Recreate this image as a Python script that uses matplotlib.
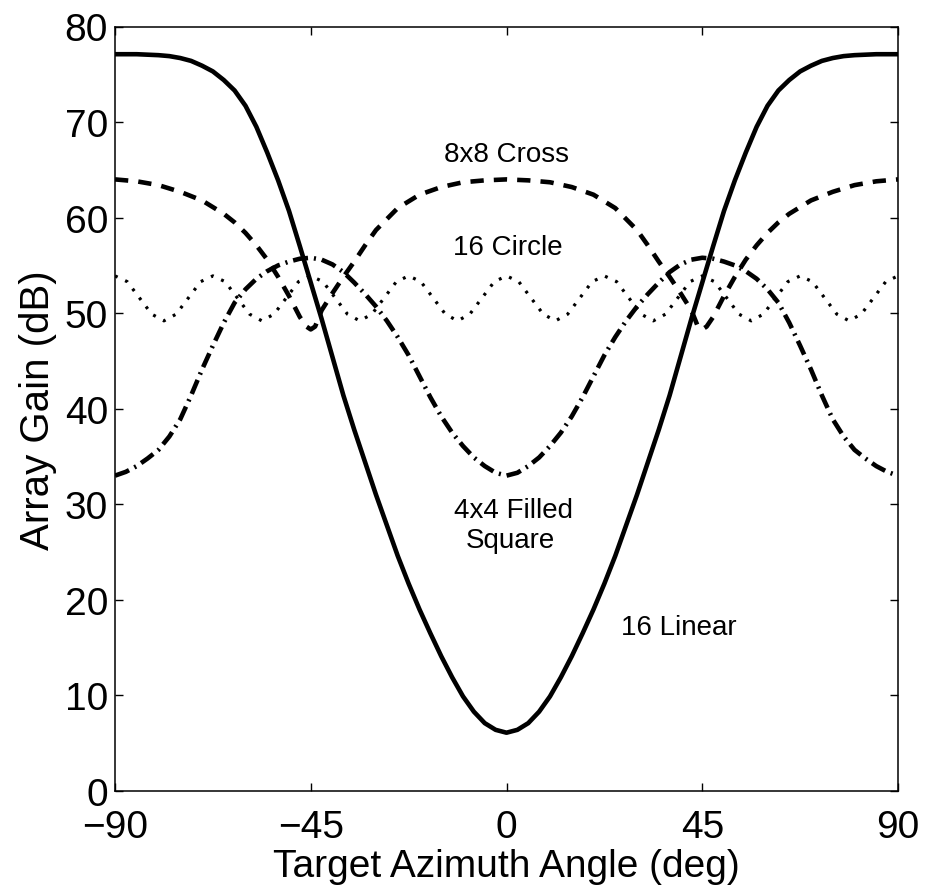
import matplotlib
matplotlib.use("Agg")
import matplotlib.pyplot as plt

plt.rcParams['font.family'] = ['Liberation Sans', 'DejaVu Sans']

# ---- data ----
lin_x = [-90, -85, -82.5, -80, -77.5, -75, -72.5, -70, -67.5, -65, -62.5, -60,
         -57.5, -55, -52.5, -50, -47.5, -45, -42.5, -40, -37.5, -35, -32.5, -30,
         -27.5, -25, -22.5, -20, -17.5, -15, -12.5, -10, -7.5, -5, -2.5, 0,
         2.5, 5, 7.5, 10, 12.5, 15, 17.5, 20, 22.5, 25, 27.5,
         30, 32.5, 35, 37.5, 40, 42.5, 45, 47.5, 50, 52.5, 55, 57.5,
         60, 62.5, 65, 67.5, 70, 72.5, 75, 77.5, 80, 82.5, 85, 90]
lin_y = [77.1, 77.1, 77.05, 77.0, 76.9, 76.7, 76.4, 75.9, 75.3, 74.4, 73.3, 71.7,
         69.5, 66.8, 63.9, 60.7, 57.0, 53.2, 49.4, 45.4, 41.4, 37.8, 34.4, 31.0,
         27.8, 24.6, 21.7, 19.0, 16.5, 14.1, 11.9, 9.9, 8.3, 7.1, 6.4, 6.1,
         6.4, 7.1, 8.3, 9.9, 11.9, 14.1, 16.5, 19.0, 21.7, 24.6, 27.8,
         31.0, 34.4, 37.8, 41.4, 45.4, 49.4, 53.2, 57.0, 60.7, 63.9, 66.8, 69.5,
         71.7, 73.3, 74.4, 75.3, 75.9, 76.4, 76.7, 76.9, 77.0, 77.05, 77.1, 77.1]

cross_x = [-90, -85, -80, -75, -70, -65, -62.5, -60, -57.5, -55, -52.5, -50, -47.5,
           -46, -45, -44, -42.5, -40, -37.5, -35, -32.5, -30, -25, -20, -15, -10, -5, 0,
           5, 10, 15, 20, 25, 30, 32.5, 35, 37.5, 40, 42.5, 44, 45, 46,
           47.5, 50, 52.5, 55, 57.5, 60, 62.5, 65, 70, 75, 80, 85, 90]
cross_y = [64.0, 63.8, 63.4, 62.7, 61.8, 60.4, 59.5, 58.4, 57.1, 55.6, 53.8, 51.8, 49.6,
           48.6, 48.3, 48.6, 50.3, 52.1, 53.8, 55.4, 57.1, 58.7, 61.0, 62.4, 63.2, 63.7, 63.9, 64.0,
           63.9, 63.7, 63.2, 62.4, 61.0, 58.7, 57.1, 55.4, 53.8, 52.1, 50.3, 48.6, 48.3, 48.6,
           49.6, 51.8, 53.8, 55.6, 57.1, 58.4, 59.5, 60.4, 61.8, 62.7, 63.4, 63.8, 64.0]

circ_x = [-90, -87.1875, -84.375, -81.5625, -78.75, -75.9375, -73.125, -70.3125,
          -67.5, -64.6875, -61.875, -59.0625, -56.25, -53.4375, -50.625, -47.8125,
          -45, -42.1875, -39.375, -36.5625, -33.75, -30.9375, -28.125, -25.3125,
          -22.5, -19.6875, -16.875, -14.0625, -11.25, -8.4375, -5.625, -2.8125,
          0, 2.8125, 5.625, 8.4375, 11.25, 14.0625, 16.875, 19.6875,
          22.5, 25.3125, 28.125, 30.9375, 33.75, 36.5625, 39.375, 42.1875,
          45, 47.8125, 50.625, 53.4375, 56.25, 59.0625, 61.875, 64.6875,
          67.5, 70.3125, 73.125, 75.9375, 78.75, 81.5625, 84.375, 87.1875, 90]
circ_y = [53.9, 53.3, 51.6, 49.9, 49.2, 49.9, 51.6, 53.3,
          53.9, 53.3, 51.6, 49.9, 49.2, 49.9, 51.6, 53.3,
          53.9, 53.3, 51.6, 49.9, 49.2, 49.9, 51.6, 53.3,
          53.9, 53.3, 51.6, 49.9, 49.2, 49.9, 51.6, 53.3,
          53.9, 53.3, 51.6, 49.9, 49.2, 49.9, 51.6, 53.3,
          53.9, 53.3, 51.6, 49.9, 49.2, 49.9, 51.6, 53.3,
          53.9, 53.3, 51.6, 49.9, 49.2, 49.9, 51.6, 53.3,
          53.9, 53.3, 51.6, 49.9, 49.2, 49.9, 51.6, 53.3, 53.9]

sq_x = [-90, -87.5, -85, -82.5, -80, -77.5, -75, -72.5, -70, -67.5, -65, -62.5,
        -60, -57.5, -55, -52.5, -50, -47.5, -45, -42.5, -40, -37.5, -35, -32.5,
        -30, -27.5, -25, -22.5, -20, -17.5, -15, -12.5, -10, -7.5, -5, -2.5, 0,
        2.5, 5, 7.5, 10, 12.5, 15, 17.5, 20, 22.5, 25, 27.5, 30,
        32.5, 35, 37.5, 40, 42.5, 45, 47.5, 50, 52.5, 55, 57.5, 60,
        62.5, 65, 67.5, 70, 72.5, 75, 77.5, 80, 82.5, 85, 87.5, 90]
sq_y = [33.0, 33.4, 34.0, 34.8, 35.7, 37.1, 38.9, 41.4, 44.1, 46.6, 49.0, 51.1,
        52.5, 53.6, 54.4, 55.0, 55.4, 55.7, 55.8, 55.6, 55.1, 54.3, 53.2, 52.0,
        50.7, 49.2, 47.5, 45.6, 43.4, 41.2, 39.2, 37.5, 36.1, 34.9, 34.0, 33.3, 33.0,
        33.3, 34.0, 34.9, 36.1, 37.5, 39.2, 41.2, 43.4, 45.6, 47.5, 49.2, 50.7,
        52.0, 53.2, 54.3, 55.1, 55.6, 55.8, 55.7, 55.4, 55.0, 54.4, 53.6, 52.5,
        51.1, 49.0, 46.6, 44.1, 41.4, 38.9, 37.1, 35.7, 34.8, 34.0, 33.4, 33.0]

x_ticks = [-90, -45, 0, 45, 90]
y_ticks = [0, 10, 20, 30, 40, 50, 60, 70, 80]

labels = ["8x8 Cross", "16 Circle", "4x4 Filled", "Square", "16 Linear"]
label_x = [0.0, 0.4, 1.6, 0.8, 39.5]
label_y = [65.95, 56.2, 28.7, 25.5, 16.4]

# ---- figure ----
fig = plt.figure(figsize=(9.27, 8.95), dpi=100)
ax = fig.add_axes([115 / 927, 1 - 792 / 895, 783 / 927, 764.5 / 895])

ax.plot(lin_x, lin_y, color='black', lw=3.3, solid_capstyle='butt',
        solid_joinstyle='round')
ax.plot(cross_x, cross_y, color='black', lw=3.3, linestyle=(0, (2.9, 2.2)),
        dash_capstyle='butt')
ax.plot(circ_x, circ_y, color='black', lw=2.3, linestyle=(0, (0.9, 2.6)),
        dash_capstyle='butt')
ax.plot(sq_x, sq_y, color='black', lw=3.3, linestyle=(0, (3.3, 1.3, 0.45, 1.3)),
        dash_capstyle='butt')

for t, xx, yy in zip(labels, label_x, label_y):
    ax.text(xx, yy, t, fontsize=20, ha='center', va='baseline')

ax.set_xlim(-90, 90)
ax.set_ylim(0, 80)
ax.set_xticks(x_ticks)
ax.set_yticks(y_ticks)
ax.set_xticklabels([f"{v}".replace('-', '\u2212') for v in x_ticks])
ax.tick_params(axis='both', direction='in', length=6, width=1.0,
               top=True, right=True, labelsize=28)
ax.tick_params(axis='x', pad=13)
ax.tick_params(axis='y', pad=5)
for s in ax.spines.values():
    s.set_linewidth(1.1)

ax.set_xlabel("Target Azimuth Angle (deg)", fontsize=28)
ax.set_ylabel("Array Gain (dB)", fontsize=29)
ax.xaxis.set_label_coords(0.5, -0.075)
ax.yaxis.set_label_coords(-0.074, 0.5)

fig.savefig("out.png", dpi=100)
